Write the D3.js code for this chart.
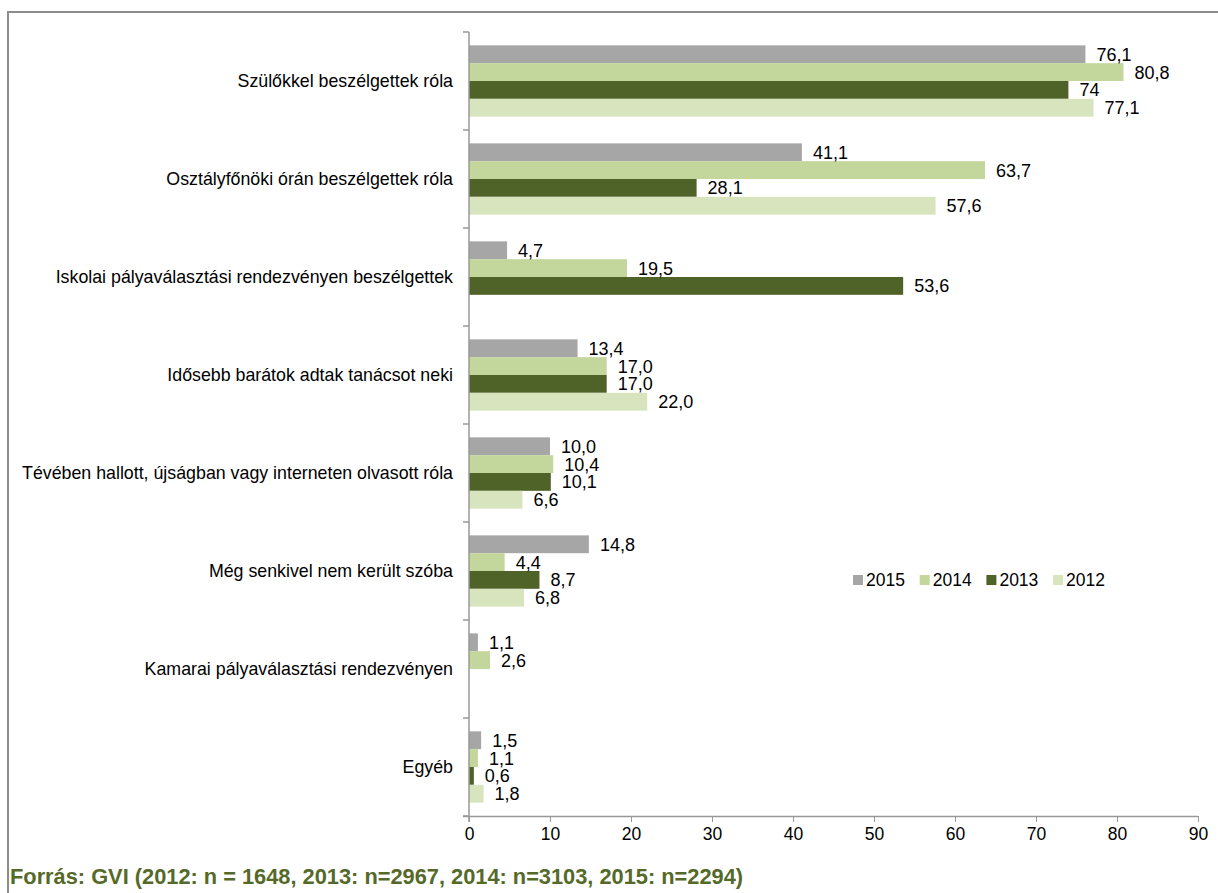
<!DOCTYPE html>
<html>
<head>
<meta charset="utf-8">
<script src="https://cdn.jsdelivr.net/npm/d3@7"></script>
<style>
  html, body { margin: 0; padding: 0; background: #fff; }
  svg { display: block; font-family: "Liberation Sans", Arial, sans-serif; }
</style>
</head>
<body>
<svg id="chart" width="1218" height="893"></svg>
<script>
// Categories, top to bottom
const categories = [
  "Szülőkkel beszélgettek róla",
  "Osztályfőnöki órán beszélgettek róla",
  "Iskolai pályaválasztási rendezvényen beszélgettek",
  "Idősebb barátok adtak tanácsot neki",
  "Tévében hallott, újságban vagy interneten olvasott róla",
  "Még senkivel nem került szóba",
  "Kamarai pályaválasztási rendezvényen",
  "Egyéb"
];

// Series values as printed (Hungarian decimal comma); null = no bar
const years = ["2015", "2014", "2013", "2012"];
const v2015 = ["76,1", "41,1", "4,7", "13,4", "10,0", "14,8", "1,1", "1,5"];
const v2014 = ["80,8", "63,7", "19,5", "17,0", "10,4", "4,4", "2,6", "1,1"];
const v2013 = ["74", "28,1", "53,6", "17,0", "10,1", "8,7", null, "0,6"];
const v2012 = ["77,1", "57,6", null, "22,0", "6,6", "6,8", null, "1,8"];
const colors = ["#a6a6a6", "#c3d69b", "#4f6228", "#d7e4bd"];
const xTicks = [0, 10, 20, 30, 40, 50, 60, 70, 80, 90];
const source = "Forrás: GVI (2012: n = 1648, 2013: n=2967, 2014: n=3103, 2015: n=2294)";

const seriesLabels = [v2015, v2014, v2013, v2012];
const parse = s => s == null ? null : +s.replace(",", ".");

const rows = [];
categories.forEach((c, i) => {
  years.forEach((y, j) => {
    const label = seriesLabels[j][i];
    if (label != null) rows.push({ cat: c, year: y, label, value: parse(label), color: colors[j] });
  });
});

const svg = d3.select("#chart");

// Frame lines
svg.append("line").attr("x1", 8).attr("x2", 1218).attr("y1", 12).attr("y2", 12)
  .attr("stroke", "#8c8c8c").attr("stroke-width", 2);
svg.append("line").attr("x1", 8).attr("x2", 8).attr("y1", 11).attr("y2", 893)
  .attr("stroke", "#8c8c8c").attr("stroke-width", 2);

const x = d3.scaleLinear().domain([0, 90]).range([469, 1198]);
const y0 = d3.scaleBand().domain(categories).range([32, 816]).padding(0);
const y1 = d3.scaleBand().domain(years).range([0, y0.bandwidth()]).paddingInner(0).paddingOuter(0.75);

// Bars
svg.append("g").selectAll("rect").data(rows).join("rect")
  .attr("x", x(0))
  .attr("y", d => y0(d.cat) + y1(d.year))
  .attr("width", d => x(d.value) - x(0))
  .attr("height", y1.bandwidth())
  .attr("fill", d => d.color);

// Value labels
svg.append("g").selectAll("text").data(rows).join("text")
  .attr("x", d => x(d.value) + 11)
  .attr("y", d => y0(d.cat) + y1(d.year) + y1.bandwidth() / 2)
  .attr("dy", "0.36em")
  .attr("font-size", 18)
  .attr("fill", "#000")
  .text(d => d.label);

// X axis
const xAxis = svg.append("g").attr("transform", "translate(0,816)")
  .call(d3.axisBottom(x).tickValues(xTicks).tickSize(6).tickPadding(6).tickFormat(d3.format("d")));
xAxis.select(".domain").attr("stroke", "#999").attr("stroke-width", 1.5).attr("d", `M${x(0) - 6},0.5H${x(90)}`);
xAxis.selectAll(".tick line").attr("stroke", "#999");
xAxis.selectAll(".tick text").attr("font-size", 17.5).attr("fill", "#000").attr("font-family", "Liberation Sans, Arial, sans-serif");

// Y axis: category labels centred on each band, tick marks on band edges
const yAxisG = svg.append("g");
yAxisG.append("line").attr("x1", x(0)).attr("x2", x(0)).attr("y1", 32).attr("y2", 822)
  .attr("stroke", "#999").attr("stroke-width", 1.5);
const edges = categories.map(c => y0(c)).concat([y0.range()[1]]);
yAxisG.selectAll("line.edge").data(edges).join("line").attr("class", "edge")
  .attr("x1", x(0) - 6).attr("x2", x(0)).attr("y1", d => d).attr("y2", d => d)
  .attr("stroke", "#999").attr("stroke-width", 1.5);
yAxisG.selectAll("text").data(categories).join("text")
  .attr("x", 453)
  .attr("y", d => y0(d) + y0.bandwidth() / 2)
  .attr("dy", "0.36em")
  .attr("text-anchor", "end")
  .attr("font-size", 17.8)
  .attr("fill", "#000")
  .text(d => d);

// Legend
const legend = svg.append("g").attr("transform", "translate(853,580)");
const lg = legend.selectAll("g").data(years).join("g")
  .attr("transform", (d, i) => `translate(${i * 66.7},0)`);
lg.append("rect").attr("x", 0).attr("y", -5).attr("width", 10).attr("height", 10)
  .attr("fill", (d, i) => colors[i]);
lg.append("text").attr("x", 13).attr("y", 0).attr("dy", "0.36em")
  .attr("font-size", 17.5).attr("fill", "#000").text(d => d);

// Source note
svg.append("text").attr("x", 10).attr("y", 884)
  .attr("font-size", 21.8).attr("font-weight", "bold").attr("fill", "#556a28")
  .text(source);
</script>
</body>
</html>
